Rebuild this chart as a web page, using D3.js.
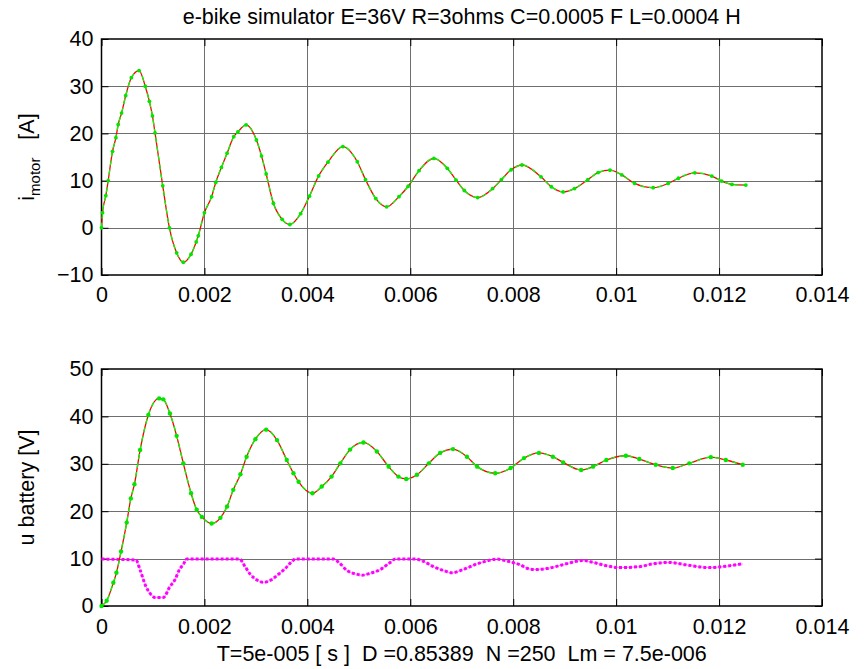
<!DOCTYPE html>
<html>
<head>
<meta charset="utf-8">
<script src="https://cdn.jsdelivr.net/npm/d3@7"></script>
<style>
html,body{margin:0;padding:0;background:#fff;}
svg{display:block;}
text{font-family:"Liberation Sans",Arial,Helvetica,sans-serif;fill:#000;}
</style>
</head>
<body>
<svg id="chart" width="864" height="669"></svg>
<script>
// ---------------- data ----------------
const titleText = "e-bike simulator E=36V R=3ohms C=0.0005 F L=0.0004 H";
const xLabelText = "T=5e-005 [ s ]  D =0.85389  N =250  Lm = 7.5e-006";
const xTicks = [0, 0.002, 0.004, 0.006, 0.008, 0.01, 0.012, 0.014];
const xTickLabels = ["0", "0.002", "0.004", "0.006", "0.008", "0.01", "0.012", "0.014"];
const yTicksTop = [-10, 0, 10, 20, 30, 40];
const yTicksBottom = [0, 10, 20, 30, 40, 50];

// motor current [A]
const tMotor = [0, 0.00002, 0.000084, 0.00013, 0.000214, 0.00028, 0.000325, 0.00039, 0.00047, 0.00058, 0.00073, 0.00085, 0.00093, 0.00099, 0.00104, 0.00119, 0.00132, 0.00146, 0.00159, 0.00174, 0.00184, 0.00188, 0.002, 0.00214, 0.00222, 0.00233, 0.00244, 0.00257, 0.00265, 0.00281, 0.00301, 0.00311, 0.0032, 0.00334, 0.00351, 0.00366, 0.00387, 0.00404, 0.00422, 0.0044, 0.00469, 0.00497, 0.00513, 0.00533, 0.00554, 0.00578, 0.00596, 0.00617, 0.00646, 0.00672, 0.00689, 0.00705, 0.00731, 0.0076, 0.00777, 0.00796, 0.00817, 0.00854, 0.00874, 0.00897, 0.00919, 0.00945, 0.00965, 0.00988, 0.01011, 0.01036, 0.01072, 0.01101, 0.01121, 0.01153, 0.01186, 0.01205, 0.01225, 0.01252];
const iMotor = [0, 3.2, 6.8, 10, 16.2, 19.1, 21.9, 24.3, 28.0, 31.8, 33.3, 30.0, 26.8, 23.7, 20.1, 8.9, 0, -5.3, -7.3, -5.6, -3.0, -1.7, 3.2, 6.6, 9.6, 12.8, 15.8, 19.3, 20.3, 21.8, 18.6, 15.2, 11.4, 5.2, 1.8, 0.7, 3.0, 6.7, 11.0, 13.9, 17.2, 14.0, 10.2, 6.2, 4.45, 6.6, 8.8, 12.1, 14.7, 12.6, 10.1, 7.9, 6.4, 8.3, 10.2, 12.3, 13.3, 10.8, 8.7, 7.6, 8.3, 10.2, 11.7, 12.2, 11.2, 9.4, 8.5, 9.4, 10.5, 11.65, 10.95, 9.9, 9.2, 9.05];

// battery voltage [V]
const tBattery = [0, 0.0001, 0.00023, 0.00029, 0.00038, 0.00049, 0.00057, 0.00064, 0.00075, 0.00091, 0.00112, 0.0012, 0.00133, 0.00146, 0.00159, 0.00174, 0.00185, 0.00195, 0.00214, 0.00231, 0.00244, 0.00256, 0.0027, 0.00282, 0.00299, 0.0032, 0.00341, 0.0036, 0.00373, 0.00383, 0.0041, 0.00428, 0.00447, 0.00464, 0.00483, 0.00509, 0.00535, 0.00558, 0.00577, 0.00592, 0.00613, 0.00636, 0.00658, 0.00683, 0.0071, 0.0073, 0.00765, 0.00795, 0.00821, 0.0085, 0.00877, 0.00897, 0.00932, 0.00955, 0.00981, 0.01019, 0.01045, 0.01077, 0.0111, 0.01142, 0.01184, 0.01213, 0.01246];
const uBattery = [0, 1.1, 4.9, 7.0, 11.5, 17.6, 22.7, 25.7, 32.9, 40.3, 43.8, 43.6, 40.6, 35.9, 30.1, 23.8, 20.3, 18.8, 17.4, 18.6, 21.0, 24.5, 27.8, 31.5, 35.2, 37.2, 35.0, 30.8, 28.0, 26.2, 23.8, 25.2, 27.3, 30.1, 33.0, 34.5, 32.6, 29.4, 27.3, 26.8, 27.7, 30.1, 32.3, 33.1, 31.5, 29.4, 28.0, 29.1, 31.2, 32.3, 31.5, 30.3, 28.7, 29.4, 30.8, 31.7, 31.0, 29.8, 29.1, 30.1, 31.4, 30.8, 29.8];

// duty cycle x10
const tDuty = [0, 0.00067, 0.00075, 0.00086, 0.00094, 0.00104, 0.0012, 0.00133, 0.00143, 0.00151, 0.00159, 0.00166, 0.00268, 0.00279, 0.00289, 0.00302, 0.00314, 0.00331, 0.00344, 0.00357, 0.0037, 0.00377, 0.00451, 0.00461, 0.00477, 0.00496, 0.00506, 0.00522, 0.00542, 0.00561, 0.00571, 0.0061, 0.00626, 0.00645, 0.00664, 0.00681, 0.00703, 0.0073, 0.00749, 0.00768, 0.00787, 0.00813, 0.00832, 0.00845, 0.00865, 0.00882, 0.00903, 0.00935, 0.00955, 0.00981, 0.01006, 0.01045, 0.01071, 0.01103, 0.01135, 0.01181, 0.01206, 0.01246];
const duty = [9.9, 9.7, 7.6, 4.2, 2.7, 1.8, 1.8, 4.1, 5.6, 7.6, 8.8, 9.9, 9.9, 8.3, 6.7, 5.5, 5.0, 5.6, 6.7, 7.9, 9.4, 9.9, 9.9, 9.2, 7.5, 6.7, 6.5, 6.9, 7.7, 9.2, 9.9, 9.9, 9.4, 8.3, 7.5, 7.0, 7.7, 8.9, 9.5, 9.9, 9.5, 8.7, 7.8, 7.7, 7.9, 8.3, 8.9, 9.6, 9.2, 8.5, 8.1, 8.3, 8.9, 9.2, 8.7, 8.1, 8.3, 8.9];

// ---------------- layout ----------------
const FS = 21.5;
const svg = d3.select("#chart");
const plotLeft = 101.5, plotRight = 822;
const topPanel = {y0: 39, y1: 275, domain: [-10, 40], ticks: yTicksTop, xPad: 12};
const botPanel = {y0: 369, y1: 606, domain: [0, 50], ticks: yTicksBottom, xPad: 13};

const x = d3.scaleLinear().domain([0, 0.014]).range([plotLeft, plotRight]);

function drawPanel(p) {
  const y = d3.scaleLinear().domain(p.domain).range([p.y1, p.y0]);
  const g = svg.append("g");
  g.selectAll(".vg").data(xTicks.slice(1, -1)).enter().append("line")
    .attr("x1", d => Math.round(x(d)) + 0.5).attr("x2", d => Math.round(x(d)) + 0.5)
    .attr("y1", p.y0).attr("y2", p.y1)
    .attr("stroke", "#6e6e6e").attr("stroke-width", 1);
  g.selectAll(".hg").data(p.ticks.slice(1, -1)).enter().append("line")
    .attr("y1", d => Math.round(y(d)) + 0.5).attr("y2", d => Math.round(y(d)) + 0.5)
    .attr("x1", plotLeft).attr("x2", plotRight)
    .attr("stroke", "#6e6e6e").attr("stroke-width", 1);

  const axB = d3.axisBottom(x).tickValues(xTicks).tickFormat((d, i) => xTickLabels[i]).tickSizeInner(-7).tickSizeOuter(0).tickPadding(p.xPad);
  const axT = d3.axisTop(x).tickValues(xTicks).tickFormat("").tickSizeInner(-7).tickSizeOuter(0);
  const axL = d3.axisLeft(y).tickValues(p.ticks).tickSizeInner(-7).tickSizeOuter(0).tickPadding(8);
  const axR = d3.axisRight(y).tickValues(p.ticks).tickFormat("").tickSizeInner(-7).tickSizeOuter(0);
  const gb = g.append("g").attr("transform", `translate(0,${p.y1})`).call(axB);
  const gt = g.append("g").attr("transform", `translate(0,${p.y0})`).call(axT);
  const gl = g.append("g").attr("transform", `translate(${plotLeft},0)`).call(axL);
  const gr = g.append("g").attr("transform", `translate(${plotRight},0)`).call(axR);
  [gb, gt, gl, gr].forEach(a => {
    a.select(".domain").remove();
    a.selectAll("line").attr("stroke", "#000").attr("stroke-width", 1);
    a.selectAll("text").style("font-size", FS + "px").attr("fill", "#000")
      .style("font-family", '"Liberation Sans",Arial,sans-serif');
  });
  g.append("rect").attr("x", plotLeft).attr("y", p.y0)
    .attr("width", plotRight - plotLeft).attr("height", p.y1 - p.y0)
    .attr("fill", "none").attr("stroke", "#000").attr("stroke-width", 1.5);
  return {g, y};
}

function drawTrace(g, y, ts, vs, dotR) {
  const pts = ts.map((t, i) => [t, vs[i]]);
  const line = d3.line().x(d => x(d[0])).y(d => y(d[1])).curve(d3.curveMonotoneX);
  g.append("path").attr("d", line(pts)).attr("fill", "none")
    .attr("stroke", "#ff0000").attr("stroke-width", 1.3);
  g.append("path").attr("d", line(pts)).attr("fill", "none")
    .attr("stroke", "#00ff00").attr("stroke-width", 1.3).attr("stroke-dasharray", "5,4");
  g.selectAll(null).data(pts).enter().append("circle")
    .attr("cx", d => x(d[0])).attr("cy", d => y(d[1])).attr("r", dotR)
    .attr("fill", "#00e600");
}

const topP = drawPanel(topPanel);
drawTrace(topP.g, topP.y, tMotor, iMotor, 1.9);

const botP = drawPanel(botPanel);
{
  const pts = tDuty.map((t, i) => [t, duty[i]]);
  const line = d3.line().x(d => x(d[0])).y(d => botP.y(d[1])).curve(d3.curveMonotoneX);
  botP.g.append("path").attr("d", line(pts)).attr("fill", "none")
    .attr("stroke", "#ff00ff").attr("stroke-width", 1).attr("opacity", 0.5);
  botP.g.append("path").attr("d", line(pts)).attr("fill", "none")
    .attr("stroke", "#ff00ff").attr("stroke-width", 3).attr("stroke-dasharray", "3,2");
}
drawTrace(botP.g, botP.y, tBattery, uBattery, 2.2);

svg.append("text").attr("x", (plotLeft + plotRight) / 2).attr("y", 23.5)
  .attr("text-anchor", "middle").style("font-size", FS + "px").text(titleText);

svg.append("text").attr("x", (plotLeft + plotRight) / 2).attr("y", 661)
  .attr("text-anchor", "middle").style("font-size", FS + "px")
  .style("white-space", "pre").text(xLabelText);

{
  const t = svg.append("text")
    .attr("transform", `translate(34,${(topPanel.y0 + topPanel.y1) / 2}) rotate(-90)`)
    .attr("text-anchor", "middle").style("font-size", FS + "px").style("white-space", "pre");
  t.append("tspan").text("i");
  t.append("tspan").attr("dy", 6).style("font-size", "15px").text("motor");
  t.append("tspan").attr("dy", -6).text("   [A]");
}
svg.append("text")
  .attr("transform", `translate(34,${(botPanel.y0 + botPanel.y1) / 2}) rotate(-90)`)
  .attr("text-anchor", "middle").style("font-size", FS + "px").text("u battery [V]");
</script>
</body>
</html>
